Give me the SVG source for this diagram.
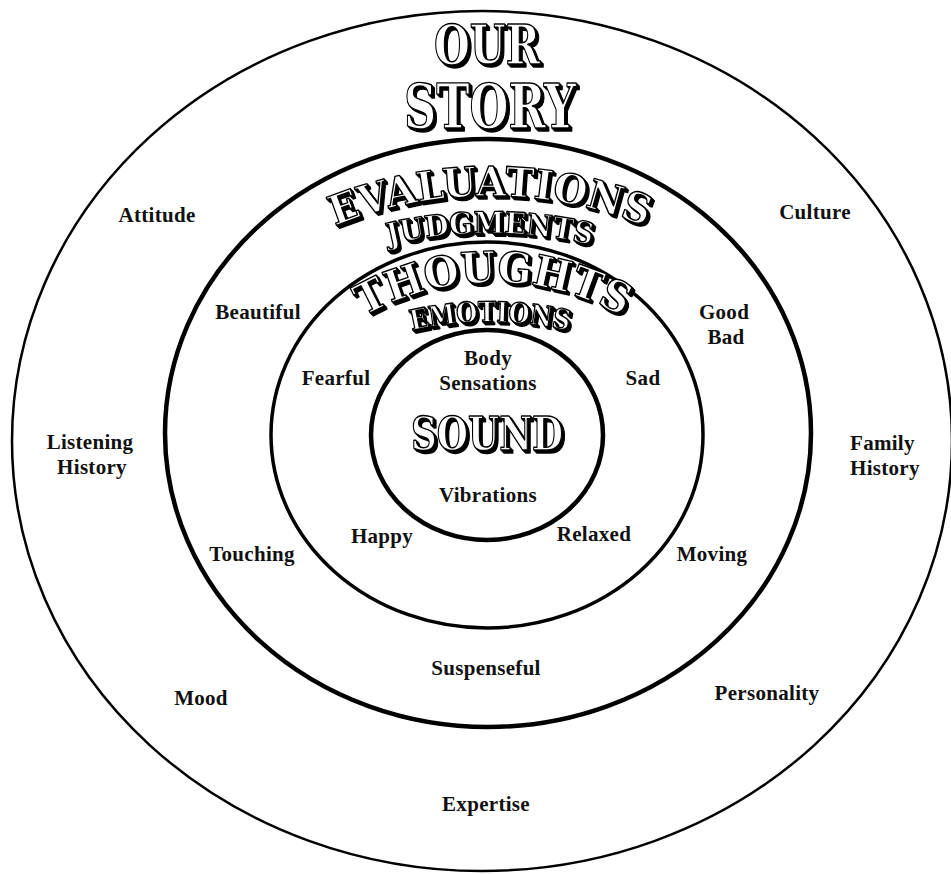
<svg xmlns="http://www.w3.org/2000/svg" width="951" height="874" viewBox="0 0 951 874">
<style>
.ring{fill:none;stroke:#000}
.lbl{font-family:"Liberation Serif","Times New Roman",serif;font-weight:bold;font-size:21px;fill:#111;text-anchor:middle;letter-spacing:0.3px}
.fancy{font-family:"DejaVu Serif","Liberation Serif",serif;font-weight:bold;text-anchor:middle;fill:#fff;stroke:#000;stroke-width:1.4;stroke-linejoin:round;filter:url(#wood)}
</style>
<defs>
<filter id="wood" x="-10%" y="-30%" width="125%" height="170%">
<feOffset in="SourceAlpha" dx="1" dy="1" result="o1"/>
<feOffset in="SourceAlpha" dx="2" dy="2" result="o2"/>
<feOffset in="SourceAlpha" dx="3" dy="3" result="o3"/>
<feMerge><feMergeNode in="o3"/><feMergeNode in="o2"/><feMergeNode in="o1"/><feMergeNode in="SourceGraphic"/></feMerge>
</filter>
<path id="pEval" d="M 198 317 A 413 413 0 0 1 782 317"/>
<path id="pJudg" d="M 179 362 A 440 440 0 0 1 801 362"/>
<path id="pThou" d="M 310 358 A 259 259 0 0 1 676 358"/>
<path id="pEmot" d="M 248 422 A 342 342 0 0 1 732 422"/>
</defs>
<rect width="951" height="874" fill="#fff"/>
<g id="rings">
<ellipse id="ring-outer" class="ring" cx="482" cy="441" rx="470" ry="430" stroke-width="2.5"/>
<ellipse id="ring-2" class="ring" cx="488" cy="433" rx="323" ry="294" stroke-width="4.5"/>
<ellipse id="ring-3" class="ring" cx="487" cy="435" rx="216" ry="193" stroke-width="3.5"/>
<ellipse id="ring-inner" class="ring" cx="487" cy="435" rx="116" ry="105" stroke-width="4.5"/>
</g>
<g id="title">
<text class="fancy" x="487" y="64" font-size="54" textLength="106" lengthAdjust="spacingAndGlyphs">OUR</text>
<text class="fancy" x="490" y="128" font-size="62" textLength="172" lengthAdjust="spacingAndGlyphs">STORY</text>
</g>
<g id="evaluations">
<text class="fancy" font-size="41"><textPath href="#pEval" startOffset="50%" textLength="318" lengthAdjust="spacingAndGlyphs">EVALUATIONS</textPath></text>
</g>
<g id="judgments">
<text class="fancy" font-size="30"><textPath href="#pJudg" startOffset="50%" textLength="204" lengthAdjust="spacingAndGlyphs">JUDGMENTS</textPath></text>
</g>
<g id="thoughts">
<text class="fancy" font-size="43"><textPath href="#pThou" startOffset="50%" textLength="270" lengthAdjust="spacingAndGlyphs">THOUGHTS</textPath></text>
</g>
<g id="emotions">
<text class="fancy" font-size="28"><textPath href="#pEmot" startOffset="50%" textLength="158" lengthAdjust="spacingAndGlyphs">EMOTIONS</textPath></text>
</g>
<g id="sound">
<text class="fancy" x="487" y="450" font-size="47" textLength="152" lengthAdjust="spacingAndGlyphs">SOUND</text>
</g>
<g id="labels">
<g id="n-attitude"><text class="lbl" x="157" y="222">Attitude</text></g>
<g id="n-culture"><text class="lbl" x="815" y="219">Culture</text></g>
<g id="n-beautiful"><text class="lbl" x="258" y="319">Beautiful</text></g>
<g id="n-goodbad"><text class="lbl" x="724" y="319">Good</text><text class="lbl" x="726" y="344">Bad</text></g>
<g id="n-fearful"><text class="lbl" x="336" y="385">Fearful</text></g>
<g id="n-sad"><text class="lbl" x="643" y="385">Sad</text></g>
<g id="n-body"><text class="lbl" x="488" y="365">Body</text><text class="lbl" x="488" y="390">Sensations</text></g>
<g id="n-vibrations"><text class="lbl" x="488" y="502">Vibrations</text></g>
<g id="n-listening"><text class="lbl" x="90" y="449">Listening</text><text class="lbl" x="92" y="474">History</text></g>
<g id="n-family"><text class="lbl" x="850" y="450" style="text-anchor:start">Family</text><text class="lbl" x="850" y="475" style="text-anchor:start">History</text></g>
<g id="n-happy"><text class="lbl" x="382" y="543">Happy</text></g>
<g id="n-relaxed"><text class="lbl" x="594" y="541">Relaxed</text></g>
<g id="n-touching"><text class="lbl" x="252" y="561">Touching</text></g>
<g id="n-moving"><text class="lbl" x="712" y="561">Moving</text></g>
<g id="n-suspenseful"><text class="lbl" x="486" y="675">Suspenseful</text></g>
<g id="n-mood"><text class="lbl" x="201" y="705">Mood</text></g>
<g id="n-personality"><text class="lbl" x="767" y="700">Personality</text></g>
<g id="n-expertise"><text class="lbl" x="486" y="811">Expertise</text></g>
</g>
</svg>
